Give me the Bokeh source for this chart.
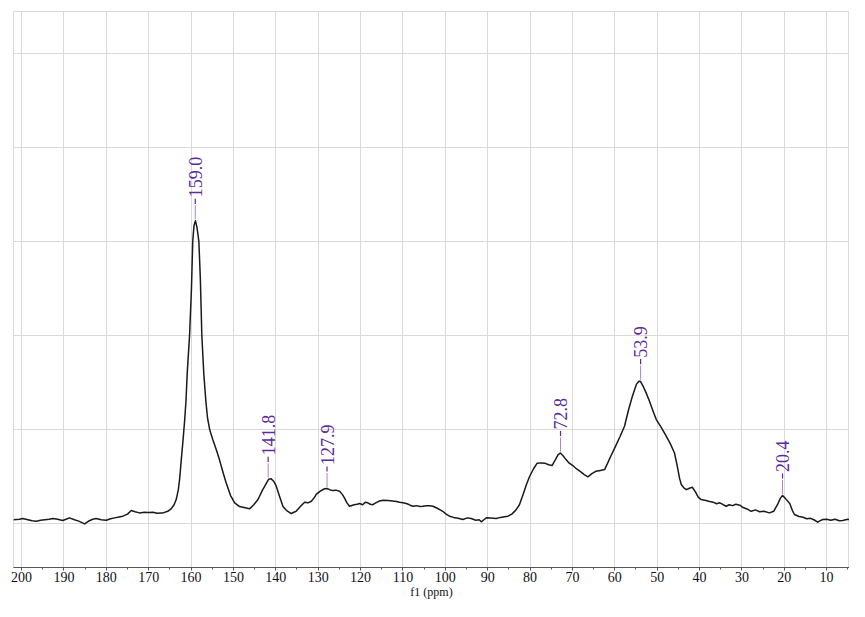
import numpy as np
from bokeh.plotting import figure
from bokeh.models import Range1d, SingleIntervalTicker, FixedTicker, ColumnDataSource
from bokeh.core.properties import value
from bokeh.embed import file_html
from bokeh.resources import INLINE

# ---- data (ppm, intensity) ----
ppm = [201.9, 200.5, 199.7, 198.5, 197.5, 196.5, 195.5, 194.5, 193.5, 192.6, 191.5, 190.3, 189.5, 188.7,
       187.5, 186.5, 185.1, 184.0, 183.2, 182.4, 181.2, 180.0, 179.0, 178.0, 177.0, 176.1, 175.0, 174.1,
       173.2, 172.2, 171.0, 170.0, 169.0, 168.0, 167.2, 166.6, 165.5, 164.7, 164.0, 163.5, 163.0, 162.7,
       162.3, 161.9, 161.5, 161.2, 160.9, 160.35, 159.9, 159.6, 159.3, 158.95, 158.6, 158.15, 157.8, 157.45,
       157.0, 156.5, 156.1, 155.6, 155.2, 154.85, 154.0, 153.3, 152.5, 151.7, 150.7, 149.7, 148.55, 147.5, 146.2,
       145.2, 144.2, 143.2, 142.2, 141.7, 141.1, 140.5, 139.9, 139.2, 138.3, 137.5, 136.35, 135.2,
       134.2, 133.2, 132.4, 131.6, 131.0, 130.45, 129.5, 128.5, 127.9, 127.3, 126.5, 125.8, 124.95,
       124.3, 123.8, 123.2, 122.6, 121.5, 120.8, 120.2, 119.5, 118.9, 118.3, 117.7, 117.1, 116.2,
       115.5, 114.7, 113.5, 112.5, 111.5, 110.8, 110.0, 109.0, 108.3, 107.6, 106.8, 106.0, 105.3,
       104.5, 103.7, 102.9, 102.0, 101.2, 100.6, 99.8, 99.0, 98.0, 97.0, 95.85, 94.8, 93.9, 92.8,
       92.0, 91.5, 90.9, 90.3, 89.3, 88.0, 87.0, 86.0, 85.2, 84.3, 83.4, 82.5, 81.7, 80.8, 80.1,
       79.2, 78.35, 77.4, 76.4, 75.6, 74.8, 74.0, 73.4, 72.85, 72.2, 71.5, 70.8, 69.9, 69.0, 68.0,
       67.2, 66.35, 65.4, 64.4, 63.4, 62.4, 61.6, 61.0, 60.0, 58.8, 57.7, 56.8, 55.8, 54.9, 54.3,
       53.9, 53.3, 52.6, 51.8, 51.0, 50.2, 49.0, 47.85, 46.9, 45.9, 45.2, 44.7, 44.3, 43.7, 43.1,
       42.4, 41.7, 41.0, 40.3, 39.6, 38.5, 37.6, 36.8, 36.0, 35.2, 34.4, 33.7, 33.0, 32.2, 31.4,
       30.5, 29.7, 28.8, 27.8, 26.8, 25.8, 24.8, 23.5, 22.5, 21.6, 20.9, 20.4, 19.8, 18.7, 18.1,
       17.6, 16.5, 15.6, 14.7, 13.8, 13.0, 12.1, 11.5, 10.9, 10.0, 9.0, 8.0, 7.0, 6.2, 5.0, 4.0,
       3.0, 2.0, 1.4]
intensity = [0.04, 0.045, 0.053, 0.04, 0.03, 0.025, 0.035, 0.04, 0.045, 0.053, 0.045, 0.032, 0.045, 0.06,
             0.04, 0.025, -0.004, 0.03, 0.045, 0.053, 0.04, 0.035, 0.05, 0.06, 0.07, 0.078, 0.1, 0.138,
             0.125, 0.113, 0.12, 0.118, 0.12, 0.11, 0.112, 0.113, 0.13, 0.156, 0.2, 0.255, 0.36, 0.47,
             0.68, 0.88, 1.1, 1.3, 1.6, 2.0, 2.5, 3.0, 3.17, 3.22, 3.15, 3.0, 2.6, 2.0,
             1.6, 1.3, 1.12, 1.0, 0.94, 0.89, 0.78, 0.68, 0.55, 0.43, 0.3, 0.22, 0.18, 0.17, 0.156,
             0.2, 0.255, 0.35, 0.43, 0.47, 0.475, 0.45, 0.40, 0.3, 0.18, 0.14, 0.106, 0.13,
             0.18, 0.227, 0.22, 0.237, 0.27, 0.31, 0.345, 0.37, 0.372, 0.36, 0.35, 0.355, 0.344,
             0.31, 0.273, 0.22, 0.184, 0.2, 0.205, 0.213, 0.2, 0.225, 0.22, 0.205, 0.2, 0.225,
             0.24, 0.248, 0.245, 0.24, 0.235, 0.227, 0.22, 0.21, 0.195, 0.184, 0.19, 0.18, 0.184,
             0.19, 0.19, 0.184, 0.165, 0.145, 0.13, 0.1, 0.078, 0.065, 0.055, 0.043, 0.06, 0.053, 0.035,
             0.04, 0.018, 0.04, 0.06, 0.058, 0.053, 0.065, 0.072, 0.078, 0.1, 0.14, 0.2, 0.3, 0.42, 0.5,
             0.58, 0.64, 0.645, 0.64, 0.625, 0.617, 0.68, 0.73, 0.75, 0.72, 0.68, 0.645, 0.617, 0.58, 0.55,
             0.52, 0.497, 0.53, 0.557, 0.565, 0.574, 0.65, 0.71, 0.805, 0.92, 1.035, 1.2, 1.36, 1.48, 1.514,
             1.51, 1.46, 1.39, 1.3, 1.2, 1.106, 1.02, 0.93, 0.85, 0.75, 0.6, 0.48, 0.415, 0.38, 0.36,
             0.375, 0.386, 0.34, 0.28, 0.255, 0.245, 0.235, 0.227, 0.21, 0.22, 0.2, 0.184, 0.2, 0.19, 0.205,
             0.195, 0.17, 0.155, 0.13, 0.145, 0.125, 0.13, 0.113, 0.13, 0.2, 0.27, 0.298, 0.27, 0.213, 0.14,
             0.096, 0.075, 0.067, 0.05, 0.055, 0.04, 0.014, 0.03, 0.043, 0.045, 0.035, 0.045, 0.03, 0.032, 0.045, 0.035,
             0.04, 0.045, 0.05]

peak_labels = [159.0, 141.8, 127.9, 72.8, 53.9, 20.4]

grid_levels = [0, 1, 2, 3, 4, 5]

# ---- figure ----
p = figure(width=849, height=601, output_backend="svg", toolbar_location=None,
           x_range=Range1d(201.9, 4.6), y_range=Range1d(-0.468, 5.447),
           min_border_left=13, min_border_right=0, min_border_top=11, min_border_bottom=34)
p.background_fill_color = "white"
p.border_fill_color = "white"
p.outline_line_color = "#d9d9d9"
p.outline_line_width = 1

p.yaxis.visible = False
p.ygrid.ticker = FixedTicker(ticks=grid_levels)
p.xgrid.ticker = SingleIntervalTicker(interval=10)
p.xgrid.grid_line_color = "#d9d9d9"
p.ygrid.grid_line_color = "#d9d9d9"
p.xgrid.grid_line_width = 1
p.ygrid.grid_line_width = 1

ax = p.xaxis[0]
ax.ticker = SingleIntervalTicker(interval=10, num_minor_ticks=2)
ax.axis_label = "f1 (ppm)"
ax.axis_label_text_font = "Liberation Serif"
ax.axis_label_text_font_style = "normal"
ax.axis_label_text_font_size = "12px"
ax.axis_label_text_color = "#111111"
ax.axis_label_standoff = 0
ax.major_label_text_font = "Liberation Serif"
ax.major_label_text_font_size = "14px"
ax.major_label_text_color = "#111111"
ax.major_label_standoff = 1
ax.axis_line_color = "#555555"
ax.major_tick_line_color = "#555555"
ax.minor_tick_line_color = "#555555"
ax.major_tick_out = 3
ax.major_tick_in = 0
ax.minor_tick_out = 2
ax.minor_tick_in = 0

src = ColumnDataSource(data=dict(x=ppm, y=intensity))
p.line("x", "y", source=src, line_color="#1a1a1a", line_width=1.5, line_join="round")

# ---- peak labels ----
ppm_a = np.array(ppm)
int_a = np.array(intensity)
tops = [float(int_a[np.abs(ppm_a - pk) <= 1.0].max()) for pk in peak_labels]

lab = ColumnDataSource(data=dict(
    x=peak_labels,
    y0=[t + 0.015 for t in tops],
    y1=[t + 0.165 for t in tops],
    y2=[t + 0.18 for t in tops],
    y3=[t + 0.235 for t in tops],
    yt=[t + 0.25 for t in tops],
    txt=[f"{v:.1f}" for v in peak_labels],
))
p.segment(x0="x", y0="y0", x1="x", y1="y1", source=lab, line_color="#a883d0", line_width=1)
p.segment(x0="x", y0="y2", x1="x", y1="y3", source=lab, line_color="#5b2a9c", line_width=1.2)
p.text(x="x", y="yt", text="txt", source=lab, angle=np.pi / 2, text_align="left",
       text_baseline="middle", text_font=value("Liberation Serif"), text_font_size="18px",
       text_color="#5b2a9c")

open("out.html", "w").write(file_html(p, INLINE))
